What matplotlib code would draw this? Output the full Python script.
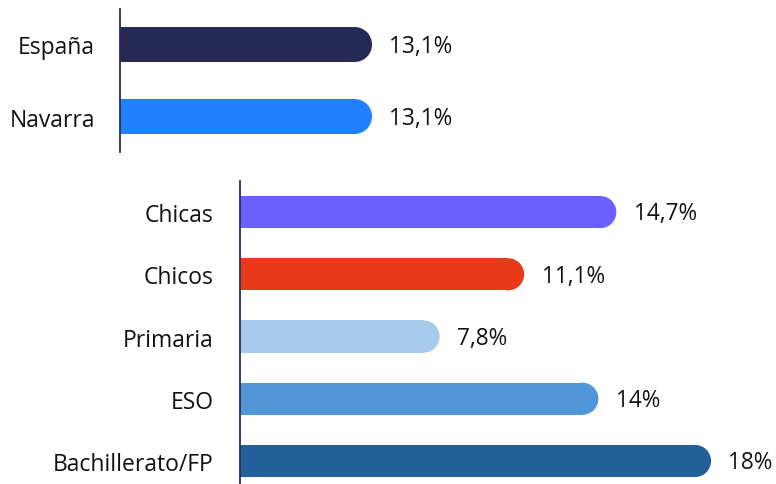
import matplotlib.pyplot as plt
from matplotlib.patches import Ellipse

plt.rcParams['font.family'] = ['Open Sans', 'DejaVu Sans']

# top block
top_cats = ["España", "Navarra"]
top_vals = [13.1, 13.1]
top_labels = ["13,1%", "13,1%"]
top_colors = ["#262856", "#2180fe"]

# bottom block (Bachillerato bar is a bit longer than its rounded 18% label)
bot_cats = ["Chicas", "Chicos", "Primaria", "ESO", "Bachillerato/FP"]
bot_vals = [14.7, 11.1, 7.8, 14.0, 18.4]
bot_labels = ["14,7%", "11,1%", "7,8%", "14%", "18%"]
bot_colors = ["#6a5fff", "#e8391a", "#a8caec", "#5096d9", "#22609c"]

W, H = 776, 485
fig = plt.figure(figsize=(W / 100, H / 100), dpi=100)


def px_axes(left, top, width, height):
    return fig.add_axes([left / W, 1 - (top + height) / H, width / W, height / H])


def rounded_bars(ax, cats, vals, labels, colors, px_unit, bar_px, step_px, pad):
    h = bar_px / step_px
    r = (bar_px / 2) / px_unit
    ys = list(range(len(cats)))
    for y, v, lab, c in zip(ys, vals, labels, colors):
        ax.barh(y, v - r, height=h, color=c, linewidth=0)
        ax.add_patch(Ellipse((v - r, y), 2 * r, h, color=c, linewidth=0))
        ax.annotate(lab, (v, y), xytext=(12.5, -1), textcoords="offset points",
                    va="center", ha="left", fontsize=16.3, color="#111111")
    ax.set_yticks(ys)
    ax.set_yticklabels(cats, fontsize=16.5, color="#111111")
    ax.tick_params(axis="y", length=0, pad=pad)
    ax.set_xticks([])
    for s in ["top", "right", "bottom"]:
        ax.spines[s].set_visible(False)
    ax.spines["left"].set_color("#2b2d55")
    ax.spines["left"].set_linewidth(1.3)
    ax.patch.set_alpha(0)


# top panel: axis at x=120, 13.1 -> 372 px
ax1 = px_axes(120, 10, 420, 143)
rounded_bars(ax1, top_cats, top_vals, top_labels, top_colors, 19.24, 35, 72, 18)
ax1.set_xlim(0, 420 / 19.24)
ax1.set_ylim(1.493, -0.493)

# bottom panel: axis at x=240, 25.6 px per unit
ax2 = px_axes(240, 182, 520, 303)
rounded_bars(ax2, bot_cats, bot_vals, bot_labels, bot_colors, 25.6, 32, 62, 19)
ax2.set_xlim(0, 520 / 25.6)
ax2.set_ylim(4.37, -0.5)

fig.savefig("out.png", dpi=100)
